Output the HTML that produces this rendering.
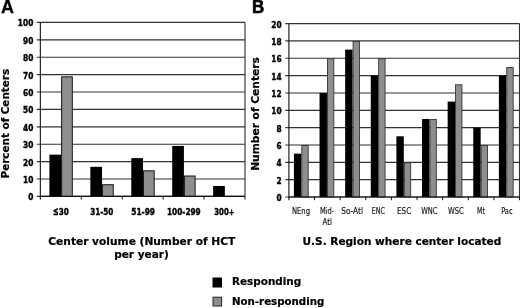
<!DOCTYPE html>
<html><head><meta charset="utf-8"><title>Figure</title>
<style>
html,body{margin:0;padding:0;background:#fff;}
svg{display:block;}
.tk{font-family:"DejaVu Sans Condensed","DejaVu Sans","Liberation Sans",sans-serif;font-weight:bold;font-size:9.2px;fill:#000;stroke:#000;stroke-width:0.4px;}
.xb{font-family:"DejaVu Sans Condensed","DejaVu Sans","Liberation Sans",sans-serif;font-size:9px;fill:#111;stroke:#111;stroke-width:0.15px;}
.ti{font-family:"DejaVu Sans","Liberation Sans",sans-serif;font-weight:bold;font-size:9.6px;fill:#000;stroke:#000;stroke-width:0.2px;}
.pl{font-family:"Liberation Sans",sans-serif;font-weight:bold;font-size:18px;fill:#000;stroke:#000;stroke-width:0.3px;}
</style></head>
<body>
<svg width="520" height="308" viewBox="0 0 520 308">
<rect width="520" height="308" fill="#fff"/>
<line x1="36.75" y1="196.40" x2="245.00" y2="196.40" stroke="#333" stroke-width="1.15"/>
<text class="tk" x="28.15" y="200.30" textLength="5.15" lengthAdjust="spacingAndGlyphs">0</text>
<line x1="36.75" y1="179.00" x2="245.00" y2="179.00" stroke="#333" stroke-width="1.15"/>
<text class="tk" x="23.00" y="182.90" textLength="10.30" lengthAdjust="spacingAndGlyphs">10</text>
<line x1="36.75" y1="161.60" x2="245.00" y2="161.60" stroke="#333" stroke-width="1.15"/>
<text class="tk" x="23.00" y="165.50" textLength="10.30" lengthAdjust="spacingAndGlyphs">20</text>
<line x1="36.75" y1="144.20" x2="245.00" y2="144.20" stroke="#333" stroke-width="1.15"/>
<text class="tk" x="23.00" y="148.10" textLength="10.30" lengthAdjust="spacingAndGlyphs">30</text>
<line x1="36.75" y1="126.80" x2="245.00" y2="126.80" stroke="#333" stroke-width="1.15"/>
<text class="tk" x="23.00" y="130.70" textLength="10.30" lengthAdjust="spacingAndGlyphs">40</text>
<line x1="36.75" y1="109.40" x2="245.00" y2="109.40" stroke="#333" stroke-width="1.15"/>
<text class="tk" x="23.00" y="113.30" textLength="10.30" lengthAdjust="spacingAndGlyphs">50</text>
<line x1="36.75" y1="92.00" x2="245.00" y2="92.00" stroke="#333" stroke-width="1.15"/>
<text class="tk" x="23.00" y="95.90" textLength="10.30" lengthAdjust="spacingAndGlyphs">60</text>
<line x1="36.75" y1="74.60" x2="245.00" y2="74.60" stroke="#333" stroke-width="1.15"/>
<text class="tk" x="23.00" y="78.50" textLength="10.30" lengthAdjust="spacingAndGlyphs">70</text>
<line x1="36.75" y1="57.20" x2="245.00" y2="57.20" stroke="#333" stroke-width="1.15"/>
<text class="tk" x="23.00" y="61.10" textLength="10.30" lengthAdjust="spacingAndGlyphs">80</text>
<line x1="36.75" y1="39.80" x2="245.00" y2="39.80" stroke="#333" stroke-width="1.15"/>
<text class="tk" x="23.00" y="43.70" textLength="10.30" lengthAdjust="spacingAndGlyphs">90</text>
<line x1="36.75" y1="22.40" x2="245.00" y2="22.40" stroke="#333" stroke-width="1.15"/>
<text class="tk" x="17.85" y="26.30" textLength="15.45" lengthAdjust="spacingAndGlyphs">100</text>
<line x1="245.00" y1="22.40" x2="245.00" y2="196.40" stroke="#333" stroke-width="1.15"/>
<rect x="49.41" y="154.64" width="11.70" height="41.76" fill="#000"/>
<rect x="61.61" y="76.84" width="10.70" height="119.56" fill="#8e8e8e" stroke="#151515" stroke-width="1"/>
<rect x="90.34" y="166.82" width="11.70" height="29.58" fill="#000"/>
<rect x="102.55" y="184.72" width="10.70" height="11.68" fill="#8e8e8e" stroke="#151515" stroke-width="1"/>
<rect x="131.28" y="158.12" width="11.70" height="38.28" fill="#000"/>
<rect x="143.48" y="170.80" width="10.70" height="25.60" fill="#8e8e8e" stroke="#151515" stroke-width="1"/>
<rect x="172.21" y="145.94" width="11.70" height="50.46" fill="#000"/>
<rect x="184.41" y="176.02" width="10.70" height="20.38" fill="#8e8e8e" stroke="#151515" stroke-width="1"/>
<rect x="213.14" y="185.96" width="11.70" height="10.44" fill="#000"/>
<line x1="40.35" y1="22.40" x2="40.35" y2="199.60" stroke="#111" stroke-width="1.1"/>
<line x1="40.35" y1="196.40" x2="245.00" y2="196.40" stroke="#111" stroke-width="1.1"/>
<line x1="81.28" y1="196.40" x2="81.28" y2="199.60" stroke="#111" stroke-width="1"/>
<line x1="122.21" y1="196.40" x2="122.21" y2="199.60" stroke="#111" stroke-width="1"/>
<line x1="163.14" y1="196.40" x2="163.14" y2="199.60" stroke="#111" stroke-width="1"/>
<line x1="204.07" y1="196.40" x2="204.07" y2="199.60" stroke="#111" stroke-width="1"/>
<line x1="245.00" y1="196.40" x2="245.00" y2="199.60" stroke="#111" stroke-width="1"/>
<line x1="285.30" y1="197.00" x2="519.50" y2="197.00" stroke="#333" stroke-width="1.15"/>
<text class="tk" x="276.45" y="200.90" textLength="5.15" lengthAdjust="spacingAndGlyphs">0</text>
<line x1="285.30" y1="179.66" x2="519.50" y2="179.66" stroke="#333" stroke-width="1.15"/>
<text class="tk" x="276.45" y="183.56" textLength="5.15" lengthAdjust="spacingAndGlyphs">2</text>
<line x1="285.30" y1="162.32" x2="519.50" y2="162.32" stroke="#333" stroke-width="1.15"/>
<text class="tk" x="276.45" y="166.22" textLength="5.15" lengthAdjust="spacingAndGlyphs">4</text>
<line x1="285.30" y1="144.98" x2="519.50" y2="144.98" stroke="#333" stroke-width="1.15"/>
<text class="tk" x="276.45" y="148.88" textLength="5.15" lengthAdjust="spacingAndGlyphs">6</text>
<line x1="285.30" y1="127.64" x2="519.50" y2="127.64" stroke="#333" stroke-width="1.15"/>
<text class="tk" x="276.45" y="131.54" textLength="5.15" lengthAdjust="spacingAndGlyphs">8</text>
<line x1="285.30" y1="110.30" x2="519.50" y2="110.30" stroke="#333" stroke-width="1.15"/>
<text class="tk" x="271.30" y="114.20" textLength="10.30" lengthAdjust="spacingAndGlyphs">10</text>
<line x1="285.30" y1="92.96" x2="519.50" y2="92.96" stroke="#333" stroke-width="1.15"/>
<text class="tk" x="271.30" y="96.86" textLength="10.30" lengthAdjust="spacingAndGlyphs">12</text>
<line x1="285.30" y1="75.62" x2="519.50" y2="75.62" stroke="#333" stroke-width="1.15"/>
<text class="tk" x="271.30" y="79.52" textLength="10.30" lengthAdjust="spacingAndGlyphs">14</text>
<line x1="285.30" y1="58.28" x2="519.50" y2="58.28" stroke="#333" stroke-width="1.15"/>
<text class="tk" x="271.30" y="62.18" textLength="10.30" lengthAdjust="spacingAndGlyphs">16</text>
<line x1="285.30" y1="40.94" x2="519.50" y2="40.94" stroke="#333" stroke-width="1.15"/>
<text class="tk" x="271.30" y="44.84" textLength="10.30" lengthAdjust="spacingAndGlyphs">18</text>
<line x1="285.30" y1="23.60" x2="519.50" y2="23.60" stroke="#333" stroke-width="1.15"/>
<text class="tk" x="271.30" y="27.50" textLength="10.30" lengthAdjust="spacingAndGlyphs">20</text>
<line x1="519.50" y1="23.60" x2="519.50" y2="197.00" stroke="#333" stroke-width="1.15"/>
<rect x="293.91" y="153.65" width="7.40" height="43.35" fill="#000"/>
<rect x="301.81" y="145.48" width="6.40" height="51.52" fill="#8e8e8e" stroke="#2e2e2e" stroke-width="0.85"/>
<rect x="319.53" y="92.96" width="7.40" height="104.04" fill="#000"/>
<rect x="327.43" y="58.78" width="6.40" height="138.22" fill="#8e8e8e" stroke="#2e2e2e" stroke-width="0.85"/>
<rect x="345.16" y="49.61" width="7.40" height="147.39" fill="#000"/>
<rect x="353.06" y="41.44" width="6.40" height="155.56" fill="#8e8e8e" stroke="#2e2e2e" stroke-width="0.85"/>
<rect x="370.78" y="75.62" width="7.40" height="121.38" fill="#000"/>
<rect x="378.68" y="58.78" width="6.40" height="138.22" fill="#8e8e8e" stroke="#2e2e2e" stroke-width="0.85"/>
<rect x="396.40" y="136.31" width="7.40" height="60.69" fill="#000"/>
<rect x="404.30" y="162.82" width="6.40" height="34.18" fill="#8e8e8e" stroke="#2e2e2e" stroke-width="0.85"/>
<rect x="422.02" y="118.97" width="7.40" height="78.03" fill="#000"/>
<rect x="429.92" y="119.47" width="6.40" height="77.53" fill="#8e8e8e" stroke="#2e2e2e" stroke-width="0.85"/>
<rect x="447.64" y="101.63" width="7.40" height="95.37" fill="#000"/>
<rect x="455.54" y="84.79" width="6.40" height="112.21" fill="#8e8e8e" stroke="#2e2e2e" stroke-width="0.85"/>
<rect x="473.27" y="127.64" width="7.40" height="69.36" fill="#000"/>
<rect x="481.17" y="145.48" width="6.40" height="51.52" fill="#8e8e8e" stroke="#2e2e2e" stroke-width="0.85"/>
<rect x="498.89" y="75.62" width="7.40" height="121.38" fill="#000"/>
<rect x="506.79" y="67.45" width="6.40" height="129.55" fill="#8e8e8e" stroke="#2e2e2e" stroke-width="0.85"/>
<line x1="288.90" y1="23.60" x2="288.90" y2="200.20" stroke="#111" stroke-width="1.1"/>
<line x1="288.90" y1="197.00" x2="519.50" y2="197.00" stroke="#111" stroke-width="1.1"/>
<line x1="314.52" y1="197.00" x2="314.52" y2="200.20" stroke="#111" stroke-width="1"/>
<line x1="340.14" y1="197.00" x2="340.14" y2="200.20" stroke="#111" stroke-width="1"/>
<line x1="365.77" y1="197.00" x2="365.77" y2="200.20" stroke="#111" stroke-width="1"/>
<line x1="391.39" y1="197.00" x2="391.39" y2="200.20" stroke="#111" stroke-width="1"/>
<line x1="417.01" y1="197.00" x2="417.01" y2="200.20" stroke="#111" stroke-width="1"/>
<line x1="442.63" y1="197.00" x2="442.63" y2="200.20" stroke="#111" stroke-width="1"/>
<line x1="468.26" y1="197.00" x2="468.26" y2="200.20" stroke="#111" stroke-width="1"/>
<line x1="493.88" y1="197.00" x2="493.88" y2="200.20" stroke="#111" stroke-width="1"/>
<line x1="519.50" y1="197.00" x2="519.50" y2="200.20" stroke="#111" stroke-width="1"/>
<text class="tk" x="52.9" y="215.0" textLength="5.6" lengthAdjust="spacingAndGlyphs" style="font-size:11.5px">≤</text>
<text class="tk" x="58.75" y="214.9" textLength="10.05" lengthAdjust="spacingAndGlyphs">30</text>
<text class="tk" x="90.2" y="214.9" textLength="23.2" lengthAdjust="spacingAndGlyphs">31-50</text>
<text class="tk" x="131.25" y="214.9" textLength="23.75" lengthAdjust="spacingAndGlyphs">51-99</text>
<text class="tk" x="167" y="214.9" textLength="33.75" lengthAdjust="spacingAndGlyphs">100-299</text>
<text class="tk" x="214.25" y="214.9" textLength="20.25" lengthAdjust="spacingAndGlyphs">300+</text>
<text class="xb" x="292" y="213.75" textLength="18" lengthAdjust="spacingAndGlyphs">NEng</text>
<text class="xb" x="320" y="213.75" textLength="14.25" lengthAdjust="spacingAndGlyphs">Mid-</text>
<text class="xb" x="322.5" y="225" textLength="9.5" lengthAdjust="spacingAndGlyphs">Atl</text>
<text class="xb" x="341.25" y="213.75" textLength="21.75" lengthAdjust="spacingAndGlyphs">So-Atl</text>
<text class="xb" x="371.75" y="213.75" textLength="13.25" lengthAdjust="spacingAndGlyphs">ENC</text>
<text class="xb" x="397" y="213.75" textLength="14.25" lengthAdjust="spacingAndGlyphs">ESC</text>
<text class="xb" x="421.25" y="213.75" textLength="16.25" lengthAdjust="spacingAndGlyphs">WNC</text>
<text class="xb" x="448" y="213.75" textLength="15.75" lengthAdjust="spacingAndGlyphs">WSC</text>
<text class="xb" x="477" y="213.75" textLength="8" lengthAdjust="spacingAndGlyphs">Mt</text>
<text class="xb" x="501.25" y="213.75" textLength="11.25" lengthAdjust="spacingAndGlyphs">Pac</text>
<text class="ti" x="48.3" y="245" textLength="187" lengthAdjust="spacingAndGlyphs">Center volume (Number of HCT</text>
<text class="ti" x="114.2" y="258.1" textLength="54.6" lengthAdjust="spacingAndGlyphs">per year)</text>
<text class="ti" x="302.5" y="245" textLength="198.75" lengthAdjust="spacingAndGlyphs">U.S. Region where center located</text>
<text class="ti" x="232" y="285" textLength="69.25" lengthAdjust="spacingAndGlyphs">Responding</text>
<text class="ti" x="232" y="305" textLength="92.25" lengthAdjust="spacingAndGlyphs">Non-responding</text>
<rect x="212.5" y="277.5" width="9.5" height="10" fill="#000"/>
<rect x="213" y="297.2" width="8.6" height="8.8" fill="#8e8e8e" stroke="#222" stroke-width="1"/>
<text class="ti" transform="translate(9.1,178.4) rotate(-90)" textLength="109.5" lengthAdjust="spacingAndGlyphs">Percent of Centers</text>
<text class="ti" transform="translate(258.5,170.8) rotate(-90)" textLength="113.6" lengthAdjust="spacingAndGlyphs">Number of Centers</text>
<text class="pl" x="1.0" y="12.6">A</text>
<text class="pl" x="252.0" y="12.6" textLength="12.2" lengthAdjust="spacingAndGlyphs" style="stroke-width:0.6px">B</text>
</svg>
</body></html>
